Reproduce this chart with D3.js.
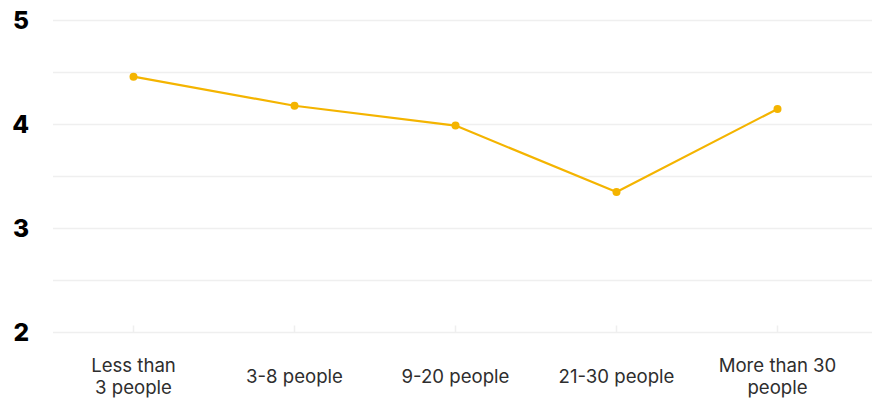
<!DOCTYPE html>
<html>
<head>
<meta charset="utf-8">
<script src="https://cdn.jsdelivr.net/npm/d3@7"></script>
<style>
  html, body { margin: 0; padding: 0; background: #fff; }
  svg { display: block; font-family: Inter, "Noto Sans", sans-serif; }
</style>
</head>
<body>
<svg id="chart" width="872" height="398"></svg>
<script>
// Team size categories and average score per category
const categories = [["Less than", "3 people"], ["3-8 people"], ["9-20 people"], ["21-30 people"], ["More than 30", "people"]];
const scores = [4.46, 4.18, 3.99, 3.35, 4.15];
const yTicks = [2, 3, 4, 5];
const gridValues = [2, 2.5, 3, 3.5, 4, 4.5, 5];

const svg = d3.select("#chart");
const W = 872;
const plotLeft = 53, plotRight = 858, plotTop = 20.5, plotBottom = 332.5;

const x = d3.scaleBand()
  .domain(d3.range(categories.length))
  .range([plotLeft, plotRight]);
const y = d3.scaleLinear().domain([2, 5]).range([plotBottom, plotTop]);
const cx = i => x(i) + x.bandwidth() / 2;

// horizontal grid lines
svg.append("g")
  .selectAll("line")
  .data(gridValues)
  .join("line")
  .attr("x1", plotLeft).attr("x2", W)
  .attr("y1", d => y(d)).attr("y2", d => y(d))
  .attr("stroke", "#efefef")
  .attr("stroke-width", 1.5);

// y axis labels
svg.append("g")
  .selectAll("text")
  .data(yTicks)
  .join("text")
  .attr("x", 29)
  .attr("y", d => y(d))
  .attr("dy", "0.36em")
  .attr("text-anchor", "end")
  .attr("font-size", 24.5)
  .attr("font-weight", 800)
  .attr("fill", "#000")
  .text(d => d);

// small category ticks on the baseline
svg.append("g")
  .selectAll("line")
  .data(categories)
  .join("line")
  .attr("x1", (d, i) => cx(i)).attr("x2", (d, i) => cx(i))
  .attr("y1", plotBottom - 7).attr("y2", plotBottom)
  .attr("stroke", "#efefef")
  .attr("stroke-width", 1.5);

// category labels (one or two lines)
const labels = svg.append("g")
  .selectAll("text")
  .data(categories)
  .join("text")
  .attr("text-anchor", "middle")
  .attr("font-size", 18.6)
  .attr("fill", "#2e2e2e");
labels.each(function(lines, i) {
  const t = d3.select(this);
  const lh = 22;
  const base = 383 - (lines.length - 1) * lh / 2;
  lines.forEach((s, k) => {
    t.append("tspan").attr("x", cx(i)).attr("y", base + k * lh).text(s);
  });
});

// score line and points
const color = "#f4b400";
svg.append("path")
  .datum(scores)
  .attr("fill", "none")
  .attr("stroke", color)
  .attr("stroke-width", 2.2)
  .attr("stroke-linejoin", "round")
  .attr("d", d3.line().x((d, i) => cx(i)).y(d => y(d)));

svg.append("g")
  .selectAll("circle")
  .data(scores)
  .join("circle")
  .attr("cx", (d, i) => cx(i))
  .attr("cy", d => y(d))
  .attr("r", 4)
  .attr("fill", color);
</script>
</body>
</html>
